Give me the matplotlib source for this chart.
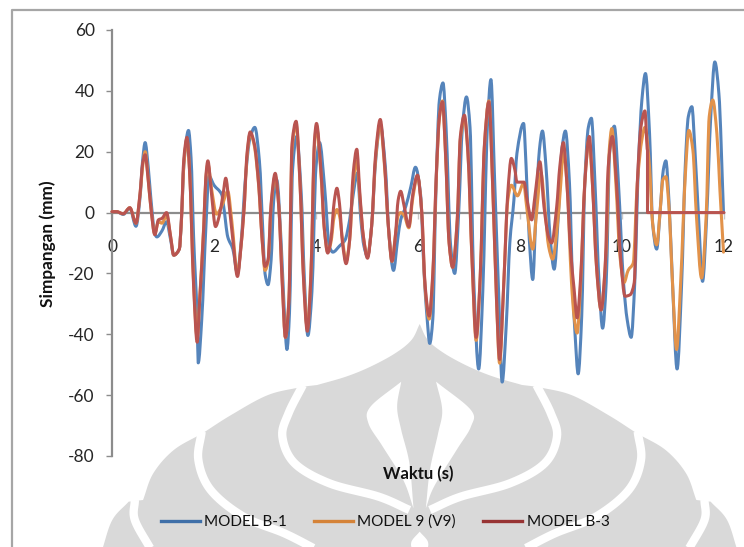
import numpy as np
import matplotlib
matplotlib.use("Agg")
import matplotlib.pyplot as plt
from matplotlib.patches import Polygon, PathPatch
from matplotlib.path import Path
from matplotlib.lines import Line2D

plt.rcParams['font.family'] = ['Lato', 'DejaVu Sans']
plt.rcParams['axes.unicode_minus'] = False

series_names = ["MODEL B-1", "MODEL 9 (V9)", "MODEL B-3"]
x_ticks = [0, 2, 4, 6, 8, 10, 12]
y_ticks = [60, 40, 20, 0, -20, -40, -60, -80]
x_title = "Waktu (s)"
y_title = "Simpangan (mm)"

t_b1 = [0,.09,.22,.35,.47,.55,.6,.65,.71,.76,.84,.88,.98,1.07,1.15,1.21,1.32,1.36,1.41,1.5,1.55,1.6,1.67,1.69,1.76,1.84,1.9,2.0,2.15,2.19,2.27,2.37,2.46,2.53,2.62,2.7,2.8,2.89,2.96,3.0,3.06,3.12,3.17,3.23,3.32,3.38,3.43,3.48,3.54,3.62,3.71,3.77,3.84,3.92,4.0,4.07,4.17,4.26,4.33,4.46,4.57,4.66,4.73,4.81,4.88,4.94,5.01,5.09,5.17,5.26,5.36,5.43,5.52,5.6,5.66,5.76,5.86,5.95,6.05,6.12,6.18,6.23,6.29,6.35,6.42,6.49,6.55,6.64,6.72,6.8,6.87,6.95,7.02,7.09,7.19,7.27,7.36,7.43,7.5,7.58,7.65,7.73,7.8,7.88,7.94,8.07,8.12,8.18,8.25,8.31,8.38,8.44,8.51,8.59,8.67,8.75,8.82,8.89,8.97,9.03,9.08,9.14,9.21,9.27,9.34,9.4,9.47,9.55,9.62,9.69,9.76,9.85,9.93,10.03,10.1,10.18,10.25,10.32,10.39,10.46,10.54,10.6,10.68,10.75,10.81,10.86,10.92,10.99,11.08,11.17,11.24,11.3,11.37,11.43,11.5,11.58,11.66,11.74,11.82,11.9,11.99]
v_b1 = [.3,.3,-.6,1.4,-4.5,5,17,23,15,5,-7,-8,-6,-3,-9,-14,-12,-3,16,27,18,-8,-35,-49.4,-35,-5,12,9,6,2,-8,-12,-20,-10,12,24,28,17,-7,-20,-23.7,-15.5,4,10.7,-11,-33,-45,-33,14,25,6.3,-21,-40.4,-26,15,23,8,-11,-13,-11,-9,-2.4,6,13,-2.4,-11,-14.4,-4.6,17,29,15,-7,-19,-9,-2.4,2,8.5,14.9,6,-20,-35,-43,-35,6.3,37,42.6,28,-11,-20,.9,28,38,28,-21,-51.4,-26,28,43.7,11.8,-26,-55.7,-37,-10,4,19.5,29.3,15,-8,-22,-1.3,20.5,26.8,15,-8,-18.6,-1.3,20.5,26.8,9.6,-23,-40,-53,-34,9.6,28,31,9.6,-23,-38,-23,20.5,28.4,9.6,-23,-35,-41,-23,15,37,45.7,26,-3.5,-12,1,14,17,4,-23,-51.4,-23,15,31.5,34.8,20.5,-1.3,-22.6,-1.3,31.5,49.5,39,0]

t_v9 = [0,.09,.22,.35,.47,.55,.6,.65,.71,.76,.84,.91,.98,1.07,1.15,1.21,1.32,1.36,1.41,1.47,1.52,1.6,1.67,1.72,1.8,1.84,1.88,1.95,2.05,2.15,2.27,2.35,2.46,2.53,2.6,2.64,2.71,2.79,2.88,2.94,3.0,3.06,3.12,3.2,3.27,3.34,3.4,3.47,3.53,3.61,3.69,3.75,3.83,3.9,3.97,4.01,4.1,4.16,4.23,4.29,4.36,4.41,4.46,4.52,4.59,4.66,4.73,4.8,4.86,4.93,5.01,5.09,5.17,5.26,5.34,5.42,5.49,5.56,5.61,5.66,5.73,5.82,5.9,5.99,6.07,6.14,6.22,6.29,6.36,6.42,6.48,6.54,6.61,6.68,6.77,6.83,6.91,6.98,7.06,7.14,7.22,7.3,7.39,7.47,7.54,7.6,7.68,7.76,7.83,7.95,8.07,8.13,8.25,8.33,8.41,8.49,8.56,8.64,8.73,8.8,8.85,8.92,9.01,9.06,9.12,9.19,9.27,9.35,9.42,9.5,9.59,9.69,9.75,9.8,9.88,9.96,10.04,10.12,10.22,10.3,10.39,10.45,10.54,10.6,10.68,10.75,10.8,10.86,10.92,10.99,11.07,11.15,11.24,11.31,11.39,11.46,11.56,11.65,11.71,11.78,11.86,11.92,11.99]
v_v9 = [.3,.3,-.4,1.6,-3.5,6,15,20,11,2,-7,-3,-3.5,-1,-8,-14,-12,-3,16,24,14,-23,-41,-28,-4,11,16,8,-.5,2,7,-3,-20,-11,4,17,26,22,8,-8,-19,-16,2,12,2,-23,-41,-28,21,29,8,-19,-38,-20,22,28,12,-5,-13,-10,-1,1,-1,-9,-16,-9,10,17,5,-8,-14.4,-4.6,18,29,16,-5,-16,-7,-1,0,-1,-5,5,12,1,-25,-35,-21,12,31,36.7,19,-10,-18,-2,24,31,19,-16,-42,-21,21,36.7,6,-29,-49.5,-24,4,9,5.5,9.6,2,-12,1,13,1,-11,-15.3,-4.6,9.6,20.5,9.6,-23,-34,-39.6,-23,9.6,23.8,9.6,-17.7,-32,-12,20.5,27.6,9.6,-14.4,-23,-19,-16.6,9.6,24,28,15,-3.5,-10.6,1,10.7,11.8,2,-23,-45,-23,11.8,27,20.5,-1.3,-21.5,-1.3,31.5,37,26,7.4,-13]

t_b3 = [0,.09,.22,.35,.47,.55,.6,.65,.71,.76,.84,.91,.98,1.07,1.15,1.21,1.32,1.36,1.41,1.47,1.52,1.6,1.67,1.72,1.8,1.84,1.88,1.95,2.03,2.1,2.18,2.23,2.3,2.37,2.46,2.53,2.6,2.64,2.71,2.79,2.88,2.94,3.0,3.06,3.12,3.2,3.27,3.34,3.4,3.47,3.53,3.61,3.69,3.75,3.83,3.9,3.97,4.01,4.1,4.16,4.23,4.29,4.36,4.41,4.46,4.52,4.59,4.66,4.73,4.8,4.86,4.93,5.01,5.09,5.17,5.26,5.34,5.42,5.49,5.56,5.61,5.66,5.73,5.82,5.9,5.99,6.07,6.14,6.22,6.29,6.36,6.42,6.48,6.54,6.61,6.68,6.77,6.83,6.91,6.98,7.06,7.14,7.22,7.3,7.39,7.47,7.54,7.6,7.68,7.76,7.83,7.9,7.94,8.08,8.14,8.23,8.29,8.39,8.47,8.56,8.62,8.72,8.78,8.85,8.92,8.99,9.06,9.12,9.19,9.27,9.36,9.42,9.5,9.59,9.67,9.73,9.81,9.9,9.97,10.06,10.16,10.24,10.3,10.37,10.45,10.5,10.5,12]
v_b3 = [.3,.3,-.4,1.6,-3.5,6.3,16,19,10.7,2,-7.3,-2.4,-1.9,0,-8,-14,-12,-2.4,18,24.7,14,-24,-42.6,-28.6,-4.6,11.8,17,6.3,-4.6,-1.3,6.3,11.3,2,-9,-21,-11,4,18,26.5,22.7,8.5,-8,-17.7,-15.5,3,12.9,2,-24,-41,-28.6,22.7,30,8.5,-20,-39,-21,23.8,29.3,13,-4.6,-13.3,-9,4,8,3,-10,-16.8,-9,13,20.8,6.3,-8,-15,-4.6,19.5,30.6,17,-4.6,-16,-7,4,7,2,-4.6,6.3,12.3,1,-24,-34,-20,13,31.5,36.4,19.5,-10,-18,-2.4,25,32,19.5,-15.5,-41,-21,21.6,36.4,6.3,-28.6,-48.3,-24,6.3,17.8,14,10,10,4,-2.4,5,16.7,2,-8,-10,2,15,23,9.6,-12,-25,-34.6,-21,9.6,25,9.6,-17.7,-32,-17.7,15,25,7.4,-14.4,-27.5,-27,-23,9.6,28,33.4,20.5,0,0]

W, H = 744, 547
fig = plt.figure(figsize=(W / 100, H / 100), dpi=100, facecolor="white")

# --- faint watermark and page frame, drawn on a pixel-coordinate layer ---
bg = fig.add_axes([0, 0, 1, 1], zorder=0)
bg.set_xlim(0, W); bg.set_ylim(H, 0); bg.axis("off")
GREY = "#d9d9d9"
CX = 780


def px(pts):
    return [(100 + x / 2.44, 320 + y / 3) for x, y in pts]


def smooth(pts, n=12):
    p = np.array(pts, float)
    p = np.vstack([2 * p[0] - p[1], p, 2 * p[-1] - p[-2]])
    out = []
    for i in range(1, len(p) - 2):
        for u in np.linspace(0, 1, n, endpoint=False):
            out.append(0.5 * (2 * p[i] + (p[i + 1] - p[i - 1]) * u
                              + (2 * p[i - 1] - 5 * p[i] + 4 * p[i + 1] - p[i + 2]) * u ** 2
                              + (3 * p[i] - p[i - 1] - 3 * p[i + 1] + p[i + 2]) * u ** 3))
    out.append(p[-2])
    return [tuple(a) for a in out]


def mirror(pts):
    return [(2 * CX - x, y) for x, y in pts]


right = smooth([(CX, 12), (800, 60), (840, 100), (900, 140), (960, 170), (1030, 195)])
r2 = smooth([(1065, 200), (1150, 225), (1240, 285), (1310, 340)])
r3 = smooth([(1310, 340), (1380, 390), (1430, 460), (1455, 540)])
r4 = smooth([(1490, 545), (1530, 600), (1555, 690)])
outer = right + r2 + r3 + r4
outer_all = outer + mirror(outer)[::-1]
bg.add_patch(Polygon(px(outer_all), closed=True, fc=GREY, ec="none", zorder=1))

bands = [
    [(1065, 195), (1100, 280), (1115, 350), (1085, 430), (1000, 490), (880, 530), (805, 570)],
    [(1312, 335), (1320, 420), (1290, 510), (1210, 590), (1110, 640), (1030, 690)],
    [(1475, 540), (1475, 600), (1435, 690)],
]
for b in bands:
    for pts in (b, mirror(b)):
        c = px(smooth(pts))
        bg.plot(*zip(*c), color="white", lw=6, zorder=2, solid_capstyle="butt")

cut_r = smooth([(820, 185), (905, 270), (905, 320), (870, 390), (815, 500), (795, 565)]) + \
    smooth([(795, 565), (805, 450), (825, 340), (835, 270), (820, 185)])
cut_l = smooth([(735, 185), (660, 260), (655, 310), (690, 380), (740, 480), (765, 565)]) + \
    smooth([(765, 565), (755, 430), (735, 330), (725, 260), (735, 185)])
for c in (cut_r, cut_l):
    bg.add_patch(Polygon(px(c), closed=True, fc="white", ec="none", zorder=3))
bg.add_patch(Polygon(px(smooth([(CX, 635), (800, 665), (795, 690), (765, 690), (760, 665), (CX, 635)])),
                     closed=True, fc="white", ec="none", zorder=3))
bg.plot([12, 12, 744], [547, 9.5, 9.5], color="#a6a6a6", lw=1.6, zorder=4)

# --- chart ---
ax = fig.add_axes([112 / W, 1 - 456 / H, (724 - 112) / W, (456 - 30) / H], zorder=1)
ax.patch.set_alpha(0)
ax.set_xlim(0, 12)
ax.set_ylim(-80, 60)
ax.set_xticks(x_ticks)
ax.set_yticks(y_ticks)
for s in ("top", "right"):
    ax.spines[s].set_visible(False)
ax.spines["bottom"].set_position(("data", 0))
for s in ("left", "bottom"):
    ax.spines[s].set_color("#8c8c8c")
    ax.spines[s].set_linewidth(1.6)
ax.tick_params(axis="y", length=4, width=1, color="#8c8c8c", labelsize=12.5, labelcolor="#262626", pad=8.5)
ax.tick_params(axis="x", length=4, width=1, color="#c8c8c8", labelsize=12.5, labelcolor="#262626", pad=15)

colors = ["#5584bb", "#e2924a", "#b95450"]
legend_colors = ["#3f6fa8", "#d58338", "#983434"]


def smoothed_line_path(t, v):
    """Excel-style smoothed line through the read values, as Bezier segments."""
    t = np.asarray(t, float)
    v = np.asarray(v, float)
    dt = np.diff(t)
    safe = np.where(dt == 0, np.nan, dt)
    s = np.diff(v) / safe
    m = np.zeros_like(v)
    for i in range(1, len(v) - 1):
        a, b = s[i - 1], s[i]
        if np.isfinite(a) and np.isfinite(b) and a * b > 0:
            m[i] = 2 * a * b / (a + b)
    if np.isfinite(s[0]):
        m[0] = s[0]
    if np.isfinite(s[-1]):
        m[-1] = s[-1]
    verts = [(t[0], v[0])]
    codes = [Path.MOVETO]
    for i in range(len(dt)):
        if dt[i] == 0:
            verts.append((t[i + 1], v[i + 1]))
            codes.append(Path.LINETO)
        else:
            h = dt[i] / 3
            verts += [(t[i] + h, v[i] + m[i] * h), (t[i + 1] - h, v[i + 1] - m[i + 1] * h), (t[i + 1], v[i + 1])]
            codes += [Path.CURVE4] * 3
    return Path(verts, codes)


for t, v, c in zip((t_b1, t_v9, t_b3), (v_b1, v_v9, v_b3), colors):
    ax.add_patch(PathPatch(smoothed_line_path(t, v), fc="none", ec=c, lw=2.2,
                           joinstyle="round", capstyle="round", clip_on=False, zorder=3))

fig.text(48 / W, 1 - 243.5 / H, y_title, rotation=90, ha="center", va="center",
         fontsize=12.4, fontweight="bold", color="#111111")
fig.text(418 / W, 1 - 474 / H, x_title, ha="center", va="center",
         fontsize=12, fontweight="bold", color="#111111")

handles = [Line2D([], [], color=c, lw=2.4) for c in legend_colors]
leg = ax.legend(handles, series_names, loc="center", ncol=3, frameon=False,
                fontsize=11, handlelength=2.55, handletextpad=0.3, columnspacing=1.76,
                labelcolor="#111111", bbox_to_anchor=(385 / W, 1 - 522 / H),
                bbox_transform=fig.transFigure)

fig.savefig("out.png", dpi=100)
